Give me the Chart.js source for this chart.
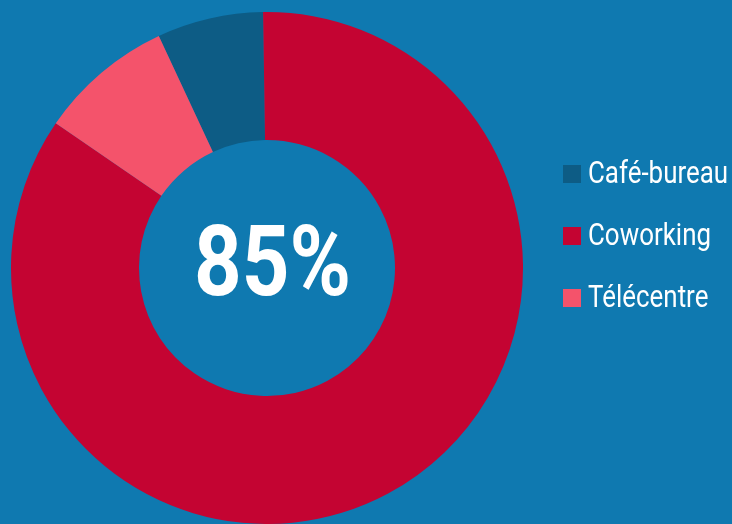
<!DOCTYPE html>
<html>
<head>
<meta charset="utf-8">
<script src="https://cdn.jsdelivr.net/npm/chart.js@4/dist/chart.umd.min.js"></script>
<style>
  html, body { margin: 0; padding: 0; background: #0f79b0; }
  .wrap { width: 732px; height: 524px; }
</style>
</head>
<body>
<div class="wrap"><canvas id="workspaces"></canvas></div>
<script>
const categories = ['Café-bureau', 'Coworking', 'Télécentre'];
const shares = [6.7, 84.8, 8.5];
const colors = ['#0d5c85', '#c40432', '#f4536b'];
const fontFamily = "Roboto, 'Liberation Sans', sans-serif";

// legend on the right, drawn with a narrower (condensed-looking) text
const sideLegend = {
  id: 'sideLegend',
  afterDraw(chart) {
    const ctx = chart.ctx;
    const labels = chart.data.labels;
    const fills = chart.data.datasets[0].backgroundColor;
    ctx.save();
    ctx.font = '32px ' + fontFamily;
    ctx.textBaseline = 'alphabetic';
    ctx.textAlign = 'left';
    labels.forEach((txt, i) => {
      const base = 183 + i * 62;
      ctx.fillStyle = fills[i];
      ctx.fillRect(563, base - 18, 18, 18);
      ctx.save();
      ctx.translate(588, base);
      ctx.scale(0.81, 1);
      ctx.fillStyle = '#ffffff';
      ctx.fillText(txt, 0, 0);
      ctx.restore();
    });
    ctx.restore();
  }
};

// big percentage in the hole
const centerLabel = {
  id: 'centerLabel',
  afterDraw(chart) {
    const arc = chart.getDatasetMeta(0).data[1];
    const ctx = chart.ctx;
    ctx.save();
    ctx.fillStyle = '#ffffff';
    ctx.font = 'bold 98px ' + fontFamily;
    ctx.textAlign = 'center';
    ctx.textBaseline = 'alphabetic';
    ctx.translate(arc.x + 5.5, arc.y + 27);
    ctx.scale(0.85, 1);
    ctx.fillText(Math.round(shares[1]) + '%', 0, 0);
    ctx.restore();
  }
};

const ctx = document.getElementById('workspaces');
new Chart(ctx, {
  type: 'doughnut',
  data: {
    labels: categories,
    datasets: [{
      data: shares,
      backgroundColor: colors,
      borderWidth: 0,
      hoverBorderWidth: 0,
      hoverOffset: 0
    }]
  },
  options: {
    responsive: true,
    maintainAspectRatio: false,
    animation: false,
    rotation: -25,
    cutout: '50%',
    layout: { padding: { top: 12, left: 11, right: 209, bottom: 0 } },
    plugins: {
      tooltip: { enabled: false },
      legend: { display: false }
    }
  },
  plugins: [sideLegend, centerLabel]
});
</script>
</body>
</html>
